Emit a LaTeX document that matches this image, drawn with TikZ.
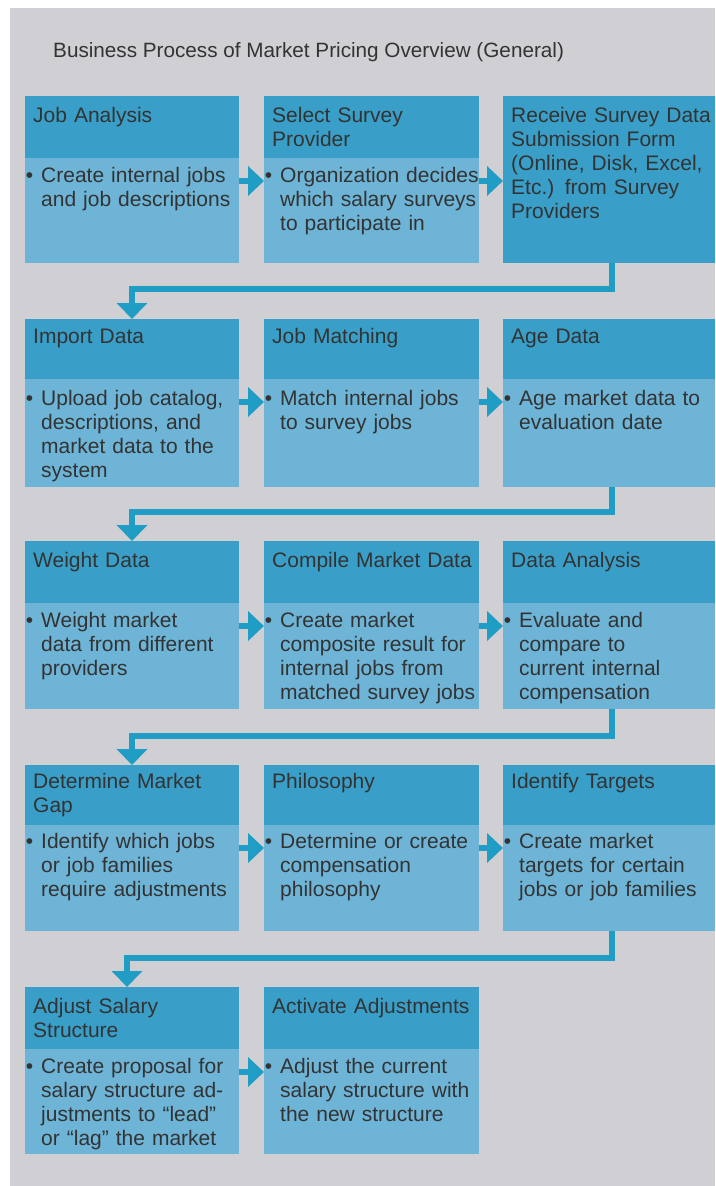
\documentclass[tikz,border=0pt]{standalone}
\usepackage{fontspec}
\setmainfont{Liberation Sans}
\usetikzlibrary{arrows.meta}
\definecolor{bgc}{RGB}{208,207,212}
\definecolor{hdc}{RGB}{57,159,200}
\definecolor{bdc}{RGB}{109,180,214}
\definecolor{arc}{RGB}{31,157,196}
\definecolor{txc}{RGB}{51,51,51}
\newcommand\bodyoff{24}
\newcommand\stepbox[9]{%
  \node[hdr,minimum width=#4pt,minimum height=#5pt] (h#1) at (#2,#3) {};
  \node[bdy,minimum width=#4pt,minimum height=#6pt] (b#1) at (h#1.south west) {};
  \node[htxt] (ht#1) at ([xshift=8pt,yshift=-#7pt]h#1.north west) {#8};
  \node[btxt] (bt#1) at ([xshift=16pt,yshift=-\bodyoff pt]b#1.north west) {\llap{\textbullet\hspace{8pt}}#9};
}
\begin{document}
\begin{tikzpicture}[x=1pt,y=-1pt,
  hdr/.style={draw=none,fill=hdc,inner sep=0pt,outer sep=0pt,anchor=north west},
  bdy/.style={draw=none,fill=bdc,inner sep=0pt,outer sep=0pt,anchor=north west},
  htxt/.style={anchor=base west,inner sep=0pt,text=txc,font=\fontsize{21}{24}\selectfont,align=left,text width=205pt},
  btxt/.style={anchor=base west,inner sep=0pt,text=txc,font=\fontsize{21}{24}\selectfont,align=left,text width=205pt},
  rarrow/.style={arc,line width=6pt,-{Triangle[length=16pt,width=29pt]}},
  darrow/.style={arc,line width=6pt,line join=miter,-{Triangle[length=16pt,width=30pt]}}
]
\useasboundingbox (0,0) rectangle (715,1186);
\fill[white] (0,0) rectangle (715,1186);
\fill[bgc] (10,8) rectangle (715,1186);
\node[anchor=base west,inner sep=0pt,text=txc,font=\fontsize{20.7}{24}\selectfont] (title) at (53,57) {Business Process of Market Pricing Overview (General)};

% Row 1
\stepbox{1}{25}{96}{214}{62}{105}{26}{Job Analysis}{Create internal jobs\\and job descriptions}
\stepbox{2}{264}{96}{215}{62}{105}{26}{Select Survey\\Provider}{Organization decides\\which salary surveys\\to participate in}
\node[hdr,minimum width=212pt,minimum height=167pt] (b3) at (503,96) {};
\node[htxt] (ht3) at (511,122) {Receive Survey Data\\Submission Form\\(Online, Disk, Excel,\\Etc.) from Survey\\Providers};

% Row 2
\renewcommand\bodyoff{26}
\stepbox{4}{25}{319}{214}{60}{108}{24}{Import Data}{Upload job catalog,\\descriptions, and\\market data to the\\system}
\stepbox{5}{264}{319}{215}{60}{108}{24}{Job Matching}{Match internal jobs\\to survey jobs}
\stepbox{6}{503}{319}{212}{60}{108}{24}{Age Data}{Age market data to\\evaluation date}

% Row 3
\renewcommand\bodyoff{24}
\stepbox{7}{25}{541}{214}{62}{106}{26}{Weight Data}{Weight market\\data from different\\providers}
\stepbox{8}{264}{541}{215}{62}{106}{26}{Compile Market Data}{Create market\\composite result for\\internal jobs from\\matched survey jobs}
\stepbox{9}{503}{541}{212}{62}{106}{26}{Data Analysis}{Evaluate and\\compare to\\current internal\\compensation}

% Row 4
\renewcommand\bodyoff{23}
\stepbox{10}{25}{765}{214}{60}{106}{23}{Determine Market\\Gap}{Identify which jobs\\or job families\\require adjustments}
\stepbox{11}{264}{765}{215}{60}{106}{23}{Philosophy}{Determine or create\\compensation\\philosophy}
\stepbox{12}{503}{765}{212}{60}{106}{23}{Identify Targets}{Create market\\targets for certain\\jobs or job families}

% Row 5
\renewcommand\bodyoff{24}
\stepbox{13}{25}{987}{214}{62}{105}{26}{Adjust Salary\\Structure}{Create proposal for\\salary structure ad-\\justments to “lead”\\or “lag” the market}
\stepbox{14}{264}{987}{215}{62}{105}{26}{Activate Adjustments}{Adjust the current\\salary structure with\\the new structure}

% right arrows
\coordinate (r1) at ([yshift=-23pt]b1.north east);
\coordinate (r2) at ([yshift=-23pt]b2.north east);
\coordinate (r4) at ([yshift=-23pt]b4.north east);
\coordinate (r5) at ([yshift=-23pt]b5.north east);
\coordinate (r7) at ([yshift=-23pt]b7.north east);
\coordinate (r8) at ([yshift=-23pt]b8.north east);
\coordinate (r10) at ([yshift=-23pt]b10.north east);
\coordinate (r11) at ([yshift=-23pt]b11.north east);
\coordinate (r13) at ([yshift=-23pt]b13.north east);
\draw[rarrow] (r1) -- (r1 -| b2.west);
\draw[rarrow] (r2) -- (r2 -| b3.west);
\draw[rarrow] (r4) -- (r4 -| b5.west);
\draw[rarrow] (r5) -- (r5 -| b6.west);
\draw[rarrow] (r7) -- (r7 -| b8.west);
\draw[rarrow] (r8) -- (r8 -| b9.west);
\draw[rarrow] (r10) -- (r10 -| b11.west);
\draw[rarrow] (r11) -- (r11 -| b12.west);
\draw[rarrow] (r13) -- (r13 -| b14.west);

% row-to-row connectors
\draw[darrow] ([xshift=3pt]b3.south) -- ++(0,-26pt) -| (h4.north);
\draw[darrow] ([xshift=3pt]b6.south) -- ++(0,-25pt) -| (h7.north);
\draw[darrow] ([xshift=3pt]b9.south) -- ++(0,-27pt) -| (h10.north);
\draw[darrow] ([xshift=3pt]b12.south) -- ++(0,-27pt) -| ([xshift=-5pt]h13.north);
\end{tikzpicture}
\end{document}
